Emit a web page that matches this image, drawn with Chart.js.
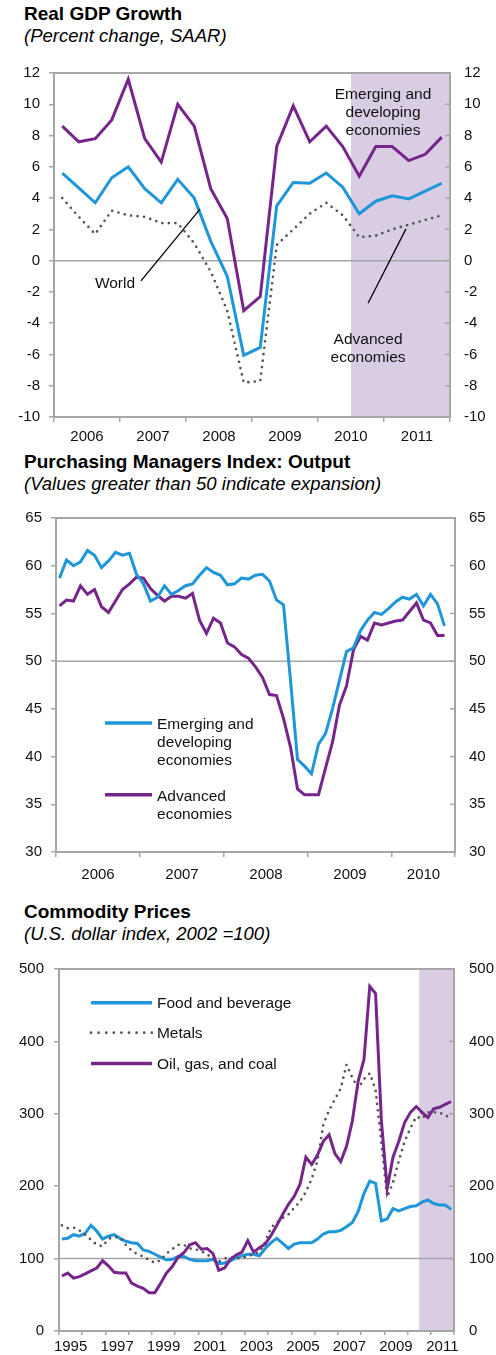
<!DOCTYPE html>
<html>
<head>
<meta charset="utf-8">
<script src="https://cdn.jsdelivr.net/npm/chart.js@4.4.1/dist/chart.umd.min.js"></script>
<style>
  body { margin: 0; background: #fff; }
  #page { position: relative; width: 496px; height: 1355px; overflow: hidden;
          font-family: "Liberation Sans", Arial, sans-serif; color: #000; }
  .title { position: absolute; left: 24px; font-weight: bold; font-size: 19px; line-height: 20px; white-space: nowrap; }
  .sub { position: absolute; left: 24px; font-style: italic; font-size: 18.5px; line-height: 20px; white-space: nowrap; }
  canvas { position: absolute; left: 0; }
</style>
</head>
<body>
<div id="page">
  <div class="title" style="top:4px">Real GDP Growth</div>
  <div class="sub" style="top:26px">(Percent change, SAAR)</div>
  <canvas id="gdp" width="496" height="400" style="top:50px"></canvas>

  <div class="title" style="top:452px">Purchasing Managers Index: Output</div>
  <div class="sub" style="top:474px">(Values greater than 50 indicate expansion)</div>
  <canvas id="pmi" width="496" height="390" style="top:495px"></canvas>

  <div class="title" style="top:902px">Commodity Prices</div>
  <div class="sub" style="top:924px">(U.S. dollar index, 2002 =100)</div>
  <canvas id="cmd" width="496" height="410" style="top:945px"></canvas>
</div>

<script>
// ---- data: real GDP growth, quarterly 2006Q1-2011Q4 ----
const gdpQuarters = quarterLabels(2006, 2011);
const gdpWorld    = [5.6, 4.65, 3.7, 5.3, 6.0, 4.6, 3.7, 5.2, 4.0, 1.25, -1.0, -6.05, -5.55, 3.5, 5.0, 4.95, 5.6, 4.7, 3.0, 3.8, 4.15, 3.95, 4.45, 4.95];
const gdpEmerging = [8.6, 7.6, 7.8, 9.0, 11.6, 7.8, 6.3, 10.0, 8.6, 4.6, 2.7, -3.2, -2.3, 7.3, 9.9, 7.6, 8.6, 7.3, 5.4, 7.3, 7.3, 6.4, 6.8, 7.9];
const gdpAdvanced = [4.0, 2.8, 1.7, 3.2, 2.9, 2.8, 2.4, 2.4, 1.1, -0.7, -3.2, -7.8, -7.7, 1.0, 2.0, 3.0, 3.7, 2.9, 1.5, 1.6, 2.0, 2.3, 2.6, 2.9];
const gdpYearMarks = [2006, 2007, 2008, 2009, 2010, 2011, 2012];
const gdpYearLabels = ['2006', '2007', '2008', '2009', '2010', '2011'];
const gdpProjectionStart = 2010.5;

// ---- data: PMI output, monthly Jan 2006-Aug 2010 ----
const pmiMonths = monthLabels(2006, 56);
const pmiEmerging = [58.7, 60.6, 60.0, 60.4, 61.6, 61.1, 59.8, 60.5, 61.4, 61.1,
                     61.3, 59.1, 58.1, 56.3, 56.7, 57.9, 57.0, 57.4, 57.9, 58.1,
                     59.0, 59.8, 59.3, 59.0, 58.0, 58.1, 58.7, 58.6, 59.0, 59.1,
                     58.4, 56.4, 55.9, 48.0, 39.7, 39.0, 38.2, 41.3, 42.4, 45.0,
                     48.0, 51.0, 51.4, 53.2, 54.3, 55.1, 54.9, 55.5, 56.2, 56.7,
                     56.5, 57.0, 55.8, 57.0, 56.0, 53.7];
const pmiAdvanced = [55.8, 56.4, 56.3, 57.9, 57.0, 57.5, 55.7, 55.1, 56.3, 57.5,
                     58.1, 58.8, 58.7, 57.6, 56.9, 56.3, 56.8, 56.8, 56.6, 57.1,
                     54.3, 52.9, 54.5, 54.0, 51.9, 51.5, 50.7, 50.3, 49.4, 48.3,
                     46.5, 46.4, 44.0, 41.0, 36.6, 36.0, 36.0, 36.0, 38.8, 41.5,
                     45.4, 47.4, 51.2, 52.6, 52.2, 54.0, 53.8, 54.0, 54.2, 54.3,
                     55.2, 56.1, 54.3, 54.0, 52.7, 52.7];
const pmiYearMarks = [2006, 2007, 2008, 2009, 2010, 2010.75];
const pmiYearLabels = ['2006', '2007', '2008', '2009', '2010'];

// ---- data: commodity prices, quarterly 1995Q1-2011Q4 ----
const cmdQuarters = quarterLabels(1995, 2011);
const cmdFood   = [127, 128, 133, 131, 135, 146, 138, 127, 131, 133, 128, 124, 122, 121, 112, 110,
                   106, 102, 98, 99, 103, 103, 99, 97, 97, 97, 99, 93, 94, 97, 101, 104,
                   106, 106, 104, 114, 122, 128, 121, 114, 120, 122, 122, 122, 127, 134, 137, 137,
                   139, 144, 150, 165, 190, 207, 204, 152, 155, 169, 166, 169, 172, 173, 178, 181,
                   176, 174, 174, 168];
const cmdMetals = [146, 142, 143, 139, 133, 126, 119, 117, 127, 130, 129, 119, 111, 106, 103, 98,
                   94, 98, 107, 113, 119, 119, 114, 113, 110, 106, 100, 96, 100, 102, 100, 101,
                   103, 106, 109, 123, 143, 150, 156, 161, 170, 179, 192, 210, 235, 285, 305, 320,
                   335, 368, 350, 335, 348, 356, 333, 260, 185, 205, 235, 262, 280, 296, 293, 302,
                   302, 302, 297, 296];
const cmdOil    = [76, 80, 73, 75, 79, 83, 87, 97, 90, 81, 80, 80, 66, 62, 59, 53,
                   53, 66, 80, 89, 102, 108, 119, 122, 113, 114, 107, 84, 87, 99, 105, 109,
                   125, 109, 115, 120, 132, 146, 161, 175, 186, 203, 240, 230, 243, 262, 271, 245,
                   234, 255, 290, 345, 375, 476, 466, 290, 197, 240, 262, 288, 302, 310, 302, 295,
                   307, 309, 313, 317];
const cmdYearMarks = [1995, 1996, 1997, 1998, 1999, 2000, 2001, 2002, 2003, 2004, 2005, 2006,
                      2007, 2008, 2009, 2010, 2011, 2012];
const cmdYearLabels = ['1995', '1997', '1999', '2001', '2003', '2005', '2007', '2009', '2011'];
const cmdProjectionStart = 2010.5;

// ---- styling ----
const FONT = '"Liberation Sans", Arial, sans-serif';
const AXIS = '#a6a6a6';
const BLUE = '#1f96d9';
const PURPLE = '#76268b';
const DOTS = '#555555';
const SHADE = '#d9cde4';
const INK = '#111111';

Chart.defaults.font.family = FONT;
Chart.defaults.font.size = 15;
Chart.defaults.color = INK;

function quarterLabels(from, to) {
  const out = [];
  for (let y = from; y <= to; y++) for (let q = 1; q <= 4; q++) out.push(y + 'Q' + q);
  return out;
}
function monthLabels(from, count) {
  const out = [];
  for (let i = 0; i < count; i++) out.push((from + Math.floor(i / 12)) + '-' + String(i % 12 + 1).padStart(2, '0'));
  return out;
}
// position of a period's midpoint on a year axis
function periodPos(label) {
  if (label.includes('Q')) {
    const [y, q] = label.split('Q').map(Number);
    return y + (q - 0.5) / 4;
  }
  const [y, m] = label.split('-').map(Number);
  return y + (m - 0.5) / 12;
}
function points(labels, values) {
  return values.map((v, i) => ({ x: periodPos(labels[i]), y: v }));
}

function solid(label, data, color) {
  return { label, data, borderColor: color, borderWidth: 3, pointRadius: 0, tension: 0, fill: false };
}
function dotted(label, data) {
  return { label, data, borderColor: DOTS, borderWidth: 2.7, borderDash: [0, 6.5],
           borderCapStyle: 'round', pointRadius: 0, tension: 0, fill: false };
}

// x axis: tick marks at year boundaries, labels centred between them
function xAxis(marks, labels, every, height, tickLen, pad) {
  const pos = [];
  for (let i = 0; i < marks.length - 1; i += every) pos.push((marks[i] + marks[i + 1]) / 2);
  const names = new Map(pos.map((p, i) => [p, labels[i]]));
  return {
    type: 'linear', min: marks[0], max: marks[marks.length - 1],
    afterBuildTicks: s => { s.ticks = marks.concat(pos).sort((a, b) => a - b).map(v => ({ value: v })); },
    afterFit: s => { s.height = height; },
    border: { display: false },
    grid: { drawOnChartArea: false, drawTicks: true, tickLength: tickLen, lineWidth: 1.5,
            color: c => (c.tick && marks.includes(c.tick.value)) ? AXIS : 'rgba(0,0,0,0)' },
    ticks: { autoSkip: false, maxRotation: 0, padding: pad, color: INK,
             callback: v => names.has(v) ? names.get(v) : '' }
  };
}
function yAxis(side, min, max, step, width, pad) {
  return {
    type: 'linear', position: side, min, max,
    afterFit: s => { s.width = width; },
    border: { display: false },
    grid: { drawOnChartArea: false, drawTicks: side === 'left', tickLength: 5, lineWidth: 1.5, color: AXIS },
    ticks: { stepSize: step, padding: pad, color: INK }
  };
}

// shading, frame, baseline, inner right ticks, notes and keys
function decor(spec) {
  return {
    id: 'decor',
    beforeDatasetsDraw(chart) {
      const { ctx, chartArea: a, scales } = chart;
      ctx.save();
      if (spec.shadeFrom !== undefined) {
        const sx = scales.x.getPixelForValue(spec.shadeFrom);
        ctx.fillStyle = SHADE;
        ctx.fillRect(sx, a.top, a.right - sx, a.bottom - a.top);
      }
      ctx.strokeStyle = AXIS;
      ctx.lineWidth = 1.5;
      const by = scales.y.getPixelForValue(spec.baseline);
      ctx.beginPath(); ctx.moveTo(a.left, by); ctx.lineTo(a.right, by); ctx.stroke();
      scales.y2.ticks.forEach(t => {
        const ty = scales.y2.getPixelForValue(t.value);
        ctx.beginPath(); ctx.moveTo(a.right - 5, ty); ctx.lineTo(a.right, ty); ctx.stroke();
      });
      ctx.lineWidth = 2;
      ctx.strokeRect(a.left, a.top, a.right - a.left, a.bottom - a.top);
      ctx.restore();
    },
    afterDatasetsDraw(chart) {
      const { ctx, scales: { x, y } } = chart;
      ctx.save();
      ctx.font = '15.5px ' + FONT;
      ctx.fillStyle = INK;
      ctx.textBaseline = 'middle';
      ctx.strokeStyle = '#000';
      ctx.lineWidth = 1.3;
      (spec.leaders || []).forEach(l => {
        ctx.beginPath();
        ctx.moveTo(x.getPixelForValue(l[0]), y.getPixelForValue(l[1]));
        ctx.lineTo(x.getPixelForValue(l[2]), y.getPixelForValue(l[3]));
        ctx.stroke();
      });
      (spec.notes || []).forEach(n => {
        ctx.textAlign = 'center';
        n.lines.forEach((t, i) => ctx.fillText(t, x.getPixelForValue(n.x), y.getPixelForValue(n.y) + i * 18));
      });
      (spec.keys || []).forEach(k => {
        const x1 = x.getPixelForValue(k.x1), x2 = x.getPixelForValue(k.x2), ky = y.getPixelForValue(k.y);
        ctx.save();
        ctx.strokeStyle = k.color;
        if (k.dotted) { ctx.setLineDash([0, 7.6]); ctx.lineCap = 'round'; ctx.lineWidth = 2.7; }
        else { ctx.lineWidth = 3.5; }
        ctx.beginPath(); ctx.moveTo(x1, ky); ctx.lineTo(x2, ky); ctx.stroke();
        ctx.restore();
        ctx.textAlign = 'left';
        k.lines.forEach((t, i) => ctx.fillText(t, x2 + 5, ky + 1.5 + i * 18));
      });
      ctx.restore();
    }
  };
}

function baseOptions(scales, padTop) {
  return {
    responsive: false, animation: false, devicePixelRatio: 1,
    layout: { padding: { top: padTop, left: 0, right: 0, bottom: 0 } },
    plugins: { legend: { display: false }, tooltip: { enabled: false } },
    scales
  };
}

// ---- chart 1: real GDP growth ----
new Chart(document.getElementById('gdp'), {
  type: 'line',
  data: { datasets: [
    solid('Emerging and developing economies', points(gdpQuarters, gdpEmerging), PURPLE),
    solid('World', points(gdpQuarters, gdpWorld), BLUE),
    dotted('Advanced economies', points(gdpQuarters, gdpAdvanced))
  ] },
  options: baseOptions({
    x: xAxis(gdpYearMarks, gdpYearLabels, 1, 33, 5, 6),
    y: yAxis('left', -10, 12, 2, 54, 9),
    y2: yAxis('right', -10, 12, 2, 46, 14)
  }, 16),
  plugins: [decor({
    shadeFrom: gdpProjectionStart, baseline: 0,
    notes: [
      { x: 2010.985, y: 10.62, lines: ['Emerging and', 'developing', 'economies'] },
      { x: 2006.924, y: -1.48, lines: ['World'] },
      { x: 2010.758, y: -5.05, lines: ['Advanced', 'economies'] }
    ],
    leaders: [[2007.318, -1.29, 2008.212, 3.29], [2010.758, -2.73, 2011.333, 2.03]]
  })]
});

// ---- chart 2: PMI output ----
new Chart(document.getElementById('pmi'), {
  type: 'line',
  data: { datasets: [
    solid('Emerging and developing economies', points(pmiMonths, pmiEmerging), BLUE),
    solid('Advanced economies', points(pmiMonths, pmiAdvanced), PURPLE)
  ] },
  options: baseOptions({
    x: xAxis(pmiYearMarks, pmiYearLabels, 1, 33, 5, 9),
    y: yAxis('left', 30, 65, 5, 56, 9),
    y2: yAxis('right', 30, 65, 5, 41, 14)
  }, 18),
  plugins: [decor({
    baseline: 50,
    keys: [
      { x1: 2006.583, x2: 2007.143, y: 43.53, color: BLUE, lines: ['Emerging and', 'developing', 'economies'] },
      { x1: 2006.583, x2: 2007.143, y: 35.99, color: PURPLE, lines: ['Advanced', 'economies'] }
    ]
  })]
});

// ---- chart 3: commodity prices ----
new Chart(document.getElementById('cmd'), {
  type: 'line',
  data: { datasets: [
    solid('Oil, gas, and coal', points(cmdQuarters, cmdOil), PURPLE),
    dotted('Metals', points(cmdQuarters, cmdMetals)),
    solid('Food and beverage', points(cmdQuarters, cmdFood), BLUE)
  ] },
  options: baseOptions({
    x: xAxis(cmdYearMarks, cmdYearLabels, 2, 23, 4, 3),
    y: yAxis('left', 0, 500, 100, 59, 10),
    y2: yAxis('right', 0, 500, 100, 42, 15)
  }, 24),
  plugins: [decor({
    shadeFrom: cmdProjectionStart, baseline: 100,
    keys: [
      { x1: 1996.377, x2: 1999.0, y: 453.5, color: BLUE, lines: ['Food and beverage'] },
      { x1: 1996.377, x2: 1999.0, y: 412, color: DOTS, dotted: true, lines: ['Metals'] },
      { x1: 1996.377, x2: 1999.0, y: 369.4, color: PURPLE, lines: ['Oil, gas, and coal'] }
    ]
  })]
});
</script>
</body>
</html>
